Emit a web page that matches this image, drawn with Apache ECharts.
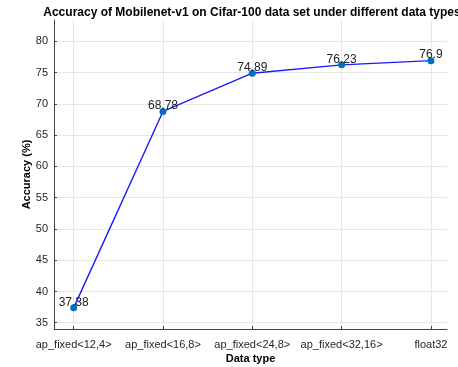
<!DOCTYPE html>
<html>
<head>
<meta charset="utf-8">
<script src="https://cdn.jsdelivr.net/npm/echarts@6/dist/echarts.min.js"></script>
<style>
  html, body { margin: 0; padding: 0; background: #fff; }
  #chart { width: 458px; height: 367px; }
</style>
</head>
<body>
<div id="chart"></div>
<script>
// Data types evaluated and the resulting top-1 accuracy (%)
const categories = ['ap_fixed<12,4>', 'ap_fixed<16,8>', 'ap_fixed<24,8>', 'ap_fixed<32,16>', 'float32'];
const accuracy = [37.38, 68.78, 74.89, 76.23, 76.9];
const yTicks = [35, 40, 45, 50, 55, 60, 65, 70, 75, 80];

const FONT = 'Liberation Sans, Arial, Helvetica, sans-serif';
const points = accuracy.map((v, i) => [i, v]);
const xTicks = categories.map((_, i) => i);

const chart = echarts.init(document.getElementById('chart'), null, { renderer: 'canvas' });
chart.setOption({
  animation: false,
  backgroundColor: '#fff',
  title: {
    text: 'Accuracy of Mobilenet-v1 on Cifar-100 data set under different data types',
    left: 247,
    textAlign: 'center',
    top: 2,
    textStyle: { fontFamily: FONT, fontSize: 12, fontWeight: 'bold', color: '#000' }
  },
  grid: { left: 54, right: 11, top: 20, bottom: 38, containLabel: false, outerBoundsMode: 'none' },
  xAxis: {
    type: 'value',
    min: -0.22,
    max: 4.18,
    name: 'Data type',
    nameLocation: 'middle',
    nameGap: 24,
    nameMoveOverlap: false,
    nameTextStyle: { fontFamily: FONT, fontSize: 11, fontWeight: 'bold', color: '#000' },
    axisLine: { onZero: false, lineStyle: { color: '#444', width: 1 } },
    axisTick: { inside: true, length: 3, customValues: xTicks, lineStyle: { color: '#444' } },
    axisLabel: {
      customValues: xTicks,
      margin: 10,
      fontFamily: FONT, fontSize: 11, color: '#262626',
      formatter: v => categories[Math.round(v)]
    },
    splitLine: { show: true, lineStyle: { color: '#e6e6e6', width: 1 } }
  },
  yAxis: {
    type: 'value',
    min: 34,
    max: 83.4,
    name: 'Accuracy (%)',
    nameLocation: 'middle',
    nameGap: 22,
    nameMoveOverlap: false,
    nameTextStyle: { fontFamily: FONT, fontSize: 11, fontWeight: 'bold', color: '#000' },
    axisLine: { show: true, onZero: false, lineStyle: { color: '#444', width: 1 } },
    axisTick: { show: true, inside: true, length: 3, customValues: yTicks, lineStyle: { color: '#444' } },
    axisLabel: { customValues: yTicks, margin: 6, fontFamily: FONT, fontSize: 11, color: '#262626' },
    splitLine: { show: true, lineStyle: { color: '#e6e6e6', width: 1 } }
  },
  series: [{
    type: 'line',
    data: points,
    symbol: 'circle',
    symbolSize: 7,
    itemStyle: { color: '#0072BD' },
    lineStyle: { color: '#1a1aff', width: 1.4 },
    label: {
      show: true,
      position: 'top',
      distance: 0,
      offset: [0, 4],
      fontFamily: FONT,
      fontSize: 12,
      color: '#222',
      formatter: p => String(p.value[1])
    }
  }]
});
</script>
</body>
</html>
